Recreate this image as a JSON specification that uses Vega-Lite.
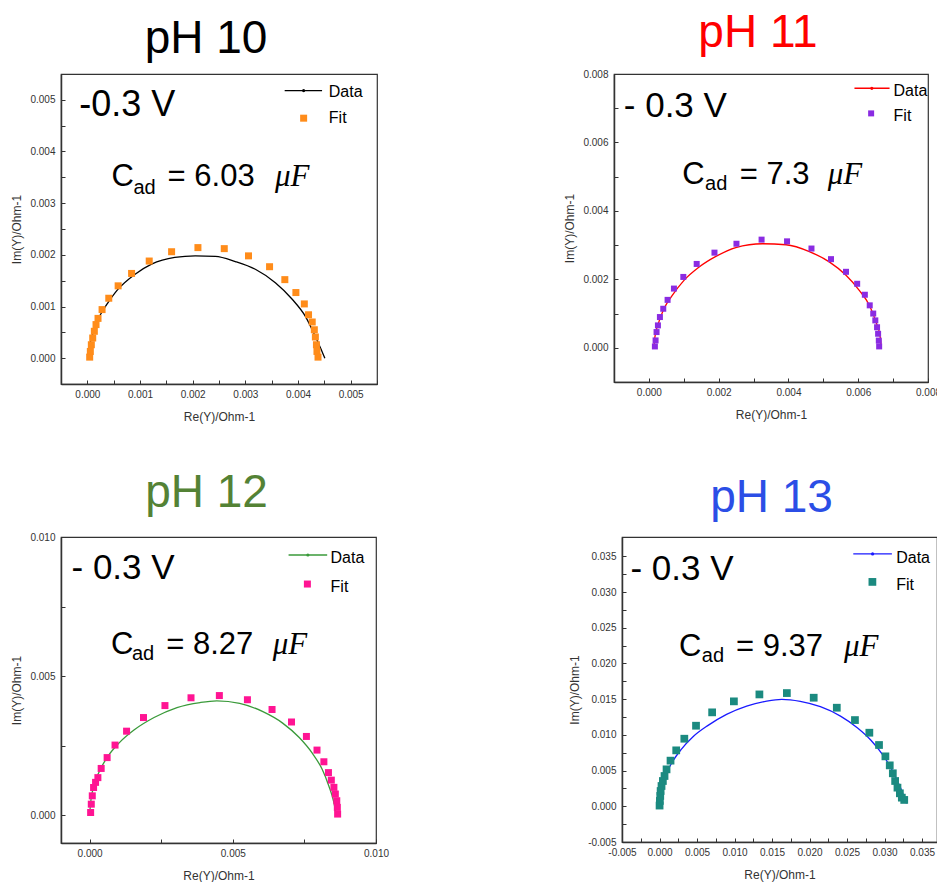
{
"$schema": "https://vega.github.io/schema/vega-lite/v6.json",
"padding": {"left": 10, "top": 9, "right": 0, "bottom": 0},
"background": "white",
"config": {
  "view": {"stroke": "#333", "strokeWidth": 1.2},
  "axis": {"grid": false, "domainColor": "#333", "domainWidth": 1.5, "tickColor": "#333", "tickSize": -4, "tickWidth": 1, "tickCount": 100, "labelFont": "Liberation Sans", "labelFontSize": 10, "labelColor": "#333", "labelOverlap": false, "labelFlush": false, "titleFont": "Liberation Sans", "titleFontSize": 12, "titleFontWeight": "normal", "titleColor": "#333"},
  "axisX": {"labelPadding": 9, "titlePadding": 12},
  "axisY": {"labelPadding": 10, "titlePadding": 6}
},
"datasets": {
  "d10": [{"re":0.000013,"im":0},{"re":0.00003,"im":0.00016},{"re":0.000089,"im":0.00042},{"re":0.00017,"im":0.00068},{"re":0.00027,"im":0.00088},{"re":0.00039,"im":0.00107},{"re":0.00058,"im":0.00133},{"re":0.0009,"im":0.00162},{"re":0.00122,"im":0.00182},{"re":0.00166,"im":0.00195},{"re":0.00205,"im":0.00198},{"re":0.00243,"im":0.00197},{"re":0.00281,"im":0.00187},{"re":0.00319,"im":0.00172},{"re":0.00357,"im":0.00146},{"re":0.00389,"im":0.00114},{"re":0.00414,"im":0.00081},{"re":0.00433,"im":0.00042},{"re":0.00443,"im":0.00019},{"re":0.00451,"im":0}],
  "f10": [{"re":0.0000445,"im":0.00002},{"re":0.000057,"im":0.00013},{"re":0.000076,"im":0.00026},{"re":0.000102,"im":0.00039},{"re":0.000133,"im":0.00052},{"re":0.000165,"im":0.00065},{"re":0.000203,"im":0.00077},{"re":0.00028,"im":0.00094},{"re":0.000407,"im":0.00116},{"re":0.000585,"im":0.0014},{"re":0.00084,"im":0.00164},{"re":0.001175,"im":0.00188},{"re":0.0016,"im":0.00206},{"re":0.0021,"im":0.00214},{"re":0.0026,"im":0.00212},{"re":0.00306,"im":0.00198},{"re":0.00346,"im":0.00177},{"re":0.00375,"im":0.00152},{"re":0.00396,"im":0.00127},{"re":0.00412,"im":0.00105},{"re":0.0042,"im":0.00084},{"re":0.00427,"im":0.0007},{"re":0.00431,"im":0.00055},{"re":0.00433,"im":0.00041},{"re":0.00435,"im":0.00026},{"re":0.00436,"im":0.00013},{"re":0.00438,"im":0.00002}],
  "d11": [{"re":0.000144,"im":0},{"re":0.000172,"im":0.00031},{"re":0.000268,"im":0.0007},{"re":0.000431,"im":0.00114},{"re":0.00067,"im":0.00153},{"re":0.001006,"im":0.00197},{"re":0.00144,"im":0.00236},{"re":0.00192,"im":0.00267},{"re":0.00249,"im":0.00293},{"re":0.00326,"im":0.00304},{"re":0.00393,"im":0.00301},{"re":0.0046,"im":0.00281},{"re":0.00517,"im":0.00251},{"re":0.00565,"im":0.00212},{"re":0.00603,"im":0.00168},{"re":0.00632,"im":0.00124},{"re":0.00651,"im":0.00075},{"re":0.00663,"im":0.00031},{"re":0.00666,"im":0}],
  "f11": [{"re":0.000172,"im":0.000039},{"re":0.000192,"im":0.000215},{"re":0.00022,"im":0.000459},{"re":0.000259,"im":0.000654},{"re":0.000316,"im":0.000898},{"re":0.000412,"im":0.00114},{"re":0.000536,"im":0.0014},{"re":0.000718,"im":0.00173},{"re":0.000987,"im":0.00207},{"re":0.00137,"im":0.00245},{"re":0.00188,"im":0.00278},{"re":0.00251,"im":0.00304},{"re":0.00323,"im":0.00316},{"re":0.00396,"im":0.00311},{"re":0.00466,"im":0.0029},{"re":0.00522,"im":0.00259},{"re":0.00565,"im":0.00222},{"re":0.00597,"im":0.00187},{"re":0.00619,"im":0.00155},{"re":0.00633,"im":0.00124},{"re":0.00643,"im":0.001},{"re":0.00649,"im":0.0008},{"re":0.00654,"im":0.0006},{"re":0.00657,"im":0.00041},{"re":0.00659,"im":0.00021},{"re":0.0066,"im":0.00004}],
  "d12": [{"re":0,"im":0},{"re":0.0000346,"im":0.000456},{"re":0.00015,"im":0.00106},{"re":0.000346,"im":0.00159},{"re":0.000634,"im":0.00211},{"re":0.00104,"im":0.00261},{"re":0.00156,"im":0.00307},{"re":0.00225,"im":0.00351},{"re":0.00305,"im":0.00387},{"re":0.00386,"im":0.00405},{"re":0.00444,"im":0.00411},{"re":0.00524,"im":0.00402},{"re":0.00605,"im":0.00372},{"re":0.00674,"im":0.00331},{"re":0.00732,"im":0.00279},{"re":0.00778,"im":0.00222},{"re":0.00812,"im":0.00165},{"re":0.00835,"im":0.00106},{"re":0.00853,"im":0.000456},{"re":0.00861,"im":0}],
  "f12": [{"re":0.0000346,"im":0.000096},{"re":0.0000576,"im":0.000396},{"re":0.0000922,"im":0.000695},{"re":0.000138,"im":0.000995},{"re":0.000207,"im":0.00118},{"re":0.000288,"im":0.00135},{"re":0.000403,"im":0.00168},{"re":0.000611,"im":0.00207},{"re":0.000887,"im":0.00252},{"re":0.00129,"im":0.00302},{"re":0.00188,"im":0.00351},{"re":0.00263,"im":0.00394},{"re":0.00354,"im":0.00422},{"re":0.00453,"im":0.0043},{"re":0.00551,"im":0.00415},{"re":0.00637,"im":0.0038},{"re":0.00705,"im":0.00335},{"re":0.00757,"im":0.00283},{"re":0.00794,"im":0.00234},{"re":0.00818,"im":0.00192},{"re":0.00834,"im":0.00153},{"re":0.00844,"im":0.00126},{"re":0.00853,"im":0.001},{"re":0.00858,"im":0.00076},{"re":0.00863,"im":0.00052},{"re":0.00865,"im":0.00028},{"re":0.00866,"im":0.00004}],
  "d13": [{"re":0,"im":0},{"re":0.00013,"im":0.00145},{"re":0.00045,"im":0.00308},{"re":0.00098,"im":0.00471},{"re":0.00179,"im":0.00634},{"re":0.0029,"im":0.00797},{"re":0.00447,"im":0.00974},{"re":0.00648,"im":0.01133},{"re":0.00894,"im":0.01287},{"re":0.01162,"im":0.01403},{"re":0.0143,"im":0.01473},{"re":0.01631,"im":0.01497},{"re":0.01877,"im":0.01469},{"re":0.02145,"im":0.01394},{"re":0.02413,"im":0.01263},{"re":0.02637,"im":0.011},{"re":0.02816,"im":0.00928},{"re":0.02972,"im":0.00727},{"re":0.03084,"im":0.00541},{"re":0.03173,"im":0.00354},{"re":0.0324,"im":0.00191},{"re":0.03276,"im":0.00075},{"re":0.03294,"im":0.00042}],
  "f13": [{"re":0.00001,"im":0.0001},{"re":0.00005,"im":0.00075},{"re":0.0001,"im":0.00145},{"re":0.00015,"im":0.00214},{"re":0.00027,"im":0.00284},{"re":0.00045,"im":0.00354},{"re":0.00067,"im":0.00424},{"re":0.00094,"im":0.00517},{"re":0.00147,"im":0.00639},{"re":0.00223,"im":0.00783},{"re":0.00331,"im":0.00946},{"re":0.00487,"im":0.01128},{"re":0.00702,"im":0.01315},{"re":0.00992,"im":0.01469},{"re":0.01332,"im":0.01566},{"re":0.01698,"im":0.01585},{"re":0.02056,"im":0.0152},{"re":0.02364,"im":0.0138},{"re":0.02606,"im":0.01207},{"re":0.02798,"im":0.0103},{"re":0.02927,"im":0.00858},{"re":0.03012,"im":0.00699},{"re":0.0307,"im":0.00573},{"re":0.03111,"im":0.00462},{"re":0.03142,"im":0.00354},{"re":0.03173,"im":0.00261},{"re":0.03205,"im":0.00182},{"re":0.03231,"im":0.00121},{"re":0.03263,"im":0.00089}]
},
"resolve": {"scale": {"x": "independent", "y": "independent"}},
"spacing": 46,
"vconcat": [
 {"hconcat": [
  {"width": 316, "height": 310,
   "title": {"text": "pH 10", "fontSize": 46, "font": "Liberation Sans", "fontWeight": "normal", "color": "#000", "anchor": "middle", "baseline": "alphabetic", "offset": -25, "dx": -13},
   "layer": [
    {"data": {"name": "d10"}, "mark": {"type": "line", "color": "#000", "strokeWidth": 1.3, "interpolate": "monotone"},
     "encoding": {
      "x": {"field": "re", "type": "quantitative", "scale": {"domain": [-0.0005, 0.0055], "nice": false, "zero": false}, "axis": {"title": "Re(Y)/Ohm-1", "tickCount": 100, "labelOverlap": false, "values": [0,0.0005,0.001,0.0015,0.002,0.0025,0.003,0.0035,0.004,0.0045,0.005,0.0055], "labelExpr": "abs(datum.value*1000 - round(datum.value*1000)) < 0.01 ? replace(format(datum.value, '.3f'), '\u2212', '-') : ''"}},
      "y": {"field": "im", "type": "quantitative", "scale": {"domain": [-0.0005, 0.0055], "nice": false, "zero": false}, "axis": {"title": "Im(Y)/Ohm-1", "tickCount": 100, "labelOverlap": false, "values": [0,0.0005,0.001,0.0015,0.002,0.0025,0.003,0.0035,0.004,0.0045,0.005], "labelExpr": "abs(datum.value*1000 - round(datum.value*1000)) < 0.01 ? replace(format(datum.value, '.3f'), '\u2212', '-') : ''"}}}},
    {"data": {"name": "f10"}, "mark": {"type": "square", "size": 49, "color": "#FF8C1A", "opacity": 1},
     "encoding": {"x": {"field": "re", "type": "quantitative"}, "y": {"field": "im", "type": "quantitative"}}},
    {"data": {"values": [{}]}, "mark": {"type": "text", "text": "-0.3 V", "font": "Liberation Sans", "fontSize": 36, "align": "left", "baseline": "alphabetic", "color": "#000"}, "encoding": {"x": {"datum": -0.000152}, "y": {"datum": 0.004678}}},
    {"data": {"values": [{}]}, "mark": {"type": "text", "text": "C", "font": "Liberation Sans", "fontSize": 31, "align": "left", "baseline": "alphabetic", "color": "#000"}, "encoding": {"x": {"datum": 0.000457}, "y": {"datum": 0.003327}}},
    {"data": {"values": [{}]}, "mark": {"type": "text", "text": "ad", "font": "Liberation Sans", "fontSize": 20, "align": "left", "baseline": "alphabetic", "color": "#000"}, "encoding": {"x": {"datum": 0.000876}, "y": {"datum": 0.003183}}},
    {"data": {"values": [{}]}, "mark": {"type": "text", "text": "= 6.03", "font": "Liberation Sans", "fontSize": 31, "align": "left", "baseline": "alphabetic", "color": "#000"}, "encoding": {"x": {"datum": 0.001524}, "y": {"datum": 0.003327}}},
    {"data": {"values": [{}]}, "mark": {"type": "text", "text": "μF", "font": "Liberation Serif", "fontStyle": "italic", "fontSize": 31, "align": "left", "baseline": "alphabetic", "color": "#000"}, "encoding": {"x": {"datum": 0.003562}, "y": {"datum": 0.003327}}},
    {"data": {"values": [{}]}, "mark": {"type": "rule", "color": "#000", "strokeWidth": 1.3}, "encoding": {"x": {"datum": 0.003747}, "x2": {"datum": 0.004457}, "y": {"datum": 0.005179}}},
    {"data": {"values": [{}]}, "mark": {"type": "circle", "size": 10, "color": "#000", "opacity": 1}, "encoding": {"x": {"datum": 0.004107}, "y": {"datum": 0.005179}}},
    {"data": {"values": [{}]}, "mark": {"type": "text", "text": "Data", "font": "Liberation Sans", "fontSize": 16, "align": "left", "baseline": "alphabetic", "color": "#000"}, "encoding": {"x": {"datum": 0.004585}, "y": {"datum": 0.005055}}},
    {"data": {"values": [{}]}, "mark": {"type": "square", "size": 49, "color": "#FF8C1A", "opacity": 1}, "encoding": {"x": {"datum": 0.004107}, "y": {"datum": 0.004645}}},
    {"data": {"values": [{}]}, "mark": {"type": "text", "text": "Fit", "font": "Liberation Sans", "fontSize": 16, "align": "left", "baseline": "alphabetic", "color": "#000"}, "encoding": {"x": {"datum": 0.004585}, "y": {"datum": 0.004548}}}
   ]},
  {"width": 314, "height": 308,
   "title": {"text": "pH 11", "fontSize": 46, "font": "Liberation Sans", "fontWeight": "normal", "color": "#FF0000", "anchor": "middle", "baseline": "alphabetic", "offset": -24, "dx": -13},
   "layer": [
    {"data": {"name": "d11"}, "mark": {"type": "line", "color": "#FF0000", "strokeWidth": 1.3, "interpolate": "monotone"},
     "encoding": {
      "x": {"field": "re", "type": "quantitative", "scale": {"domain": [-0.001, 0.008], "nice": false, "zero": false}, "axis": {"title": "Re(Y)/Ohm-1", "tickCount": 100, "labelOverlap": false, "values": [0,0.001,0.002,0.003,0.004,0.005,0.006,0.007,0.008], "labelExpr": "abs(datum.value*500 - round(datum.value*500)) < 0.01 ? replace(format(datum.value, '.3f'), '\u2212', '-') : ''"}},
      "y": {"field": "im", "type": "quantitative", "scale": {"domain": [-0.001, 0.008], "nice": false, "zero": false}, "axis": {"title": "Im(Y)/Ohm-1", "tickCount": 100, "labelOverlap": false, "values": [0,0.001,0.002,0.003,0.004,0.005,0.006,0.007,0.008], "labelExpr": "abs(datum.value*500 - round(datum.value*500)) < 0.01 ? replace(format(datum.value, '.3f'), '\u2212', '-') : ''"}}}},
    {"data": {"name": "f11"}, "mark": {"type": "square", "size": 36, "color": "#8A2BE2", "opacity": 1},
     "encoding": {"x": {"field": "re", "type": "quantitative"}, "y": {"field": "im", "type": "quantitative"}}},
    {"data": {"values": [{}]}, "mark": {"type": "text", "text": "- 0.3 V", "font": "Liberation Sans", "fontSize": 35, "align": "left", "baseline": "alphabetic", "color": "#000"}, "encoding": {"x": {"datum": -0.000719}, "y": {"datum": 0.006732}}},
    {"data": {"values": [{}]}, "mark": {"type": "text", "text": "C", "font": "Liberation Sans", "fontSize": 31, "align": "left", "baseline": "alphabetic", "color": "#000"}, "encoding": {"x": {"datum": 0.000957}, "y": {"datum": 0.00478}}},
    {"data": {"values": [{}]}, "mark": {"type": "text", "text": "ad", "font": "Liberation Sans", "fontSize": 20, "align": "left", "baseline": "alphabetic", "color": "#000"}, "encoding": {"x": {"datum": 0.00161}, "y": {"datum": 0.004624}}},
    {"data": {"values": [{}]}, "mark": {"type": "text", "text": "= 7.3", "font": "Liberation Sans", "fontSize": 31, "align": "left", "baseline": "alphabetic", "color": "#000"}, "encoding": {"x": {"datum": 0.002604}, "y": {"datum": 0.00478}}},
    {"data": {"values": [{}]}, "mark": {"type": "text", "text": "μF", "font": "Liberation Serif", "fontStyle": "italic", "fontSize": 31, "align": "left", "baseline": "alphabetic", "color": "#000"}, "encoding": {"x": {"datum": 0.005125}, "y": {"datum": 0.00478}}},
    {"data": {"values": [{}]}, "mark": {"type": "rule", "color": "#FF0000", "strokeWidth": 1.5}, "encoding": {"x": {"datum": 0.005892}, "x2": {"datum": 0.006898}, "y": {"datum": 0.00758}}},
    {"data": {"values": [{}]}, "mark": {"type": "circle", "size": 10, "color": "#FF0000", "opacity": 1}, "encoding": {"x": {"datum": 0.00639}, "y": {"datum": 0.00758}}},
    {"data": {"values": [{}]}, "mark": {"type": "text", "text": "Data", "font": "Liberation Sans", "fontSize": 16, "align": "left", "baseline": "alphabetic", "color": "#000"}, "encoding": {"x": {"datum": 0.007013}, "y": {"datum": 0.007355}}},
    {"data": {"values": [{}]}, "mark": {"type": "square", "size": 36, "color": "#8A2BE2", "opacity": 1}, "encoding": {"x": {"datum": 0.00637}, "y": {"datum": 0.006849}}},
    {"data": {"values": [{}]}, "mark": {"type": "text", "text": "Fit", "font": "Liberation Sans", "fontSize": 16, "align": "left", "baseline": "alphabetic", "color": "#000"}, "encoding": {"x": {"datum": 0.007013}, "y": {"datum": 0.006623}}}
   ]}
 ], "spacing": 184, "resolve": {"scale": {"x": "independent", "y": "independent"}}},
 {"hconcat": [
  {"width": 315, "height": 306,
   "title": {"text": "pH 12", "fontSize": 46, "font": "Liberation Sans", "fontWeight": "normal", "color": "#548235", "anchor": "middle", "baseline": "alphabetic", "offset": -21, "dx": -12},
   "layer": [
    {"data": {"name": "d12"}, "mark": {"type": "line", "color": "#3A9A3A", "strokeWidth": 1.3, "interpolate": "monotone"},
     "encoding": {
      "x": {"field": "re", "type": "quantitative", "scale": {"domain": [-0.001, 0.01], "nice": false, "zero": false}, "axis": {"title": "Re(Y)/Ohm-1", "tickCount": 100, "labelOverlap": false, "values": [0,0.0025,0.005,0.0075,0.01], "labelExpr": "abs(datum.value*200 - round(datum.value*200)) < 0.01 ? replace(format(datum.value, '.3f'), '\u2212', '-') : ''"}},
      "y": {"field": "im", "type": "quantitative", "scale": {"domain": [-0.001, 0.01], "nice": false, "zero": false}, "axis": {"title": "Im(Y)/Ohm-1", "tickCount": 100, "labelOverlap": false, "values": [0,0.0025,0.005,0.0075,0.01], "labelExpr": "abs(datum.value*200 - round(datum.value*200)) < 0.01 ? replace(format(datum.value, '.3f'), '\u2212', '-') : ''"}}}},
    {"data": {"name": "f12"}, "mark": {"type": "square", "size": 49, "color": "#FF1493", "opacity": 1},
     "encoding": {"x": {"field": "re", "type": "quantitative"}, "y": {"field": "im", "type": "quantitative"}}},
    {"data": {"values": [{}]}, "mark": {"type": "text", "text": "- 0.3 V", "font": "Liberation Sans", "fontSize": 35, "align": "left", "baseline": "alphabetic", "color": "#000"}, "encoding": {"x": {"datum": -0.000633}, "y": {"datum": 0.008489}}},
    {"data": {"values": [{}]}, "mark": {"type": "text", "text": "C", "font": "Liberation Sans", "fontSize": 31, "align": "left", "baseline": "alphabetic", "color": "#000"}, "encoding": {"x": {"datum": 0.00075}, "y": {"datum": 0.005791}}},
    {"data": {"values": [{}]}, "mark": {"type": "text", "text": "ad", "font": "Liberation Sans", "fontSize": 20, "align": "left", "baseline": "alphabetic", "color": "#000"}, "encoding": {"x": {"datum": 0.001476}, "y": {"datum": 0.005586}}},
    {"data": {"values": [{}]}, "mark": {"type": "text", "text": "= 8.27", "font": "Liberation Sans", "fontSize": 31, "align": "left", "baseline": "alphabetic", "color": "#000"}, "encoding": {"x": {"datum": 0.002675}, "y": {"datum": 0.005791}}},
    {"data": {"values": [{}]}, "mark": {"type": "text", "text": "μF", "font": "Liberation Serif", "fontStyle": "italic", "fontSize": 31, "align": "left", "baseline": "alphabetic", "color": "#000"}, "encoding": {"x": {"datum": 0.006394}, "y": {"datum": 0.005791}}},
    {"data": {"values": [{}]}, "mark": {"type": "rule", "color": "#3A9A3A", "strokeWidth": 1.3}, "encoding": {"x": {"datum": 0.006947}, "x2": {"datum": 0.008295}, "y": {"datum": 0.009353}}},
    {"data": {"values": [{}]}, "mark": {"type": "circle", "size": 10, "color": "#3A9A3A", "opacity": 1}, "encoding": {"x": {"datum": 0.007621}, "y": {"datum": 0.009353}}},
    {"data": {"values": [{}]}, "mark": {"type": "text", "text": "Data", "font": "Liberation Sans", "fontSize": 16, "align": "left", "baseline": "alphabetic", "color": "#000"}, "encoding": {"x": {"datum": 0.008413}, "y": {"datum": 0.009054}}},
    {"data": {"values": [{}]}, "mark": {"type": "square", "size": 49, "color": "#FF1493", "opacity": 1}, "encoding": {"x": {"datum": 0.007604}, "y": {"datum": 0.008309}}},
    {"data": {"values": [{}]}, "mark": {"type": "text", "text": "Fit", "font": "Liberation Sans", "fontSize": 16, "align": "left", "baseline": "alphabetic", "color": "#000"}, "encoding": {"x": {"datum": 0.008413}, "y": {"datum": 0.008032}}}
   ]},
  {"width": 315, "height": 305,
   "title": {"text": "pH 13", "fontSize": 46, "font": "Liberation Sans", "fontWeight": "normal", "color": "#2B4EE6", "anchor": "middle", "baseline": "alphabetic", "offset": -21, "dx": -8},
   "layer": [
    {"data": {"name": "d13"}, "mark": {"type": "line", "color": "#1A1AFF", "strokeWidth": 1.3, "interpolate": "monotone"},
     "encoding": {
      "x": {"field": "re", "type": "quantitative", "scale": {"domain": [-0.005, 0.037], "nice": false, "zero": false}, "axis": {"title": "Re(Y)/Ohm-1", "tickCount": 100, "labelOverlap": false, "values": [-0.005,-0.0025,0,0.0025,0.005,0.0075,0.01,0.0125,0.015,0.0175,0.02,0.0225,0.025,0.0275,0.03,0.0325,0.035], "labelExpr": "abs(datum.value*200 - round(datum.value*200)) < 0.01 ? replace(format(datum.value, '.3f'), '\u2212', '-') : ''"}},
      "y": {"field": "im", "type": "quantitative", "scale": {"domain": [-0.005, 0.0377], "nice": false, "zero": false}, "axis": {"title": "Im(Y)/Ohm-1", "tickCount": 100, "labelOverlap": false, "values": [-0.005,-0.0025,0,0.0025,0.005,0.0075,0.01,0.0125,0.015,0.0175,0.02,0.0225,0.025,0.0275,0.03,0.0325,0.035], "labelExpr": "abs(datum.value*200 - round(datum.value*200)) < 0.01 ? replace(format(datum.value, '.3f'), '\u2212', '-') : ''"}}}},
    {"data": {"name": "f13"}, "mark": {"type": "square", "size": 60, "color": "#1B8A80", "opacity": 1},
     "encoding": {"x": {"field": "re", "type": "quantitative"}, "y": {"field": "im", "type": "quantitative"}}},
    {"data": {"values": [{}]}, "mark": {"type": "text", "text": "- 0.3 V", "font": "Liberation Sans", "fontSize": 35, "align": "left", "baseline": "alphabetic", "color": "#000"}, "encoding": {"x": {"datum": -0.003875}, "y": {"datum": 0.031734}}},
    {"data": {"values": [{}]}, "mark": {"type": "text", "text": "C", "font": "Liberation Sans", "fontSize": 31, "align": "left", "baseline": "alphabetic", "color": "#000"}, "encoding": {"x": {"datum": 0.002601}, "y": {"datum": 0.021007}}},
    {"data": {"values": [{}]}, "mark": {"type": "text", "text": "ad", "font": "Liberation Sans", "fontSize": 20, "align": "left", "baseline": "alphabetic", "color": "#000"}, "encoding": {"x": {"datum": 0.005645}, "y": {"datum": 0.020168}}},
    {"data": {"values": [{}]}, "mark": {"type": "text", "text": "= 9.37", "font": "Liberation Sans", "fontSize": 31, "align": "left", "baseline": "alphabetic", "color": "#000"}, "encoding": {"x": {"datum": 0.010204}, "y": {"datum": 0.021007}}},
    {"data": {"values": [{}]}, "mark": {"type": "text", "text": "μF", "font": "Liberation Serif", "fontStyle": "italic", "fontSize": 31, "align": "left", "baseline": "alphabetic", "color": "#000"}, "encoding": {"x": {"datum": 0.024591}, "y": {"datum": 0.021007}}},
    {"data": {"values": [{}]}, "mark": {"type": "rule", "color": "#1A1AFF", "strokeWidth": 1.3}, "encoding": {"x": {"datum": 0.025838}, "x2": {"datum": 0.030987}, "y": {"datum": 0.035329}}},
    {"data": {"values": [{}]}, "mark": {"type": "circle", "size": 10, "color": "#1A1AFF", "opacity": 1}, "encoding": {"x": {"datum": 0.028413}, "y": {"datum": 0.035329}}},
    {"data": {"values": [{}]}, "mark": {"type": "text", "text": "Data", "font": "Liberation Sans", "fontSize": 16, "align": "left", "baseline": "alphabetic", "color": "#000"}, "encoding": {"x": {"datum": 0.031563}, "y": {"datum": 0.03407}}},
    {"data": {"values": [{}]}, "mark": {"type": "square", "size": 60, "color": "#1B8A80", "opacity": 1}, "encoding": {"x": {"datum": 0.028386}, "y": {"datum": 0.031413}}},
    {"data": {"values": [{}]}, "mark": {"type": "text", "text": "Fit", "font": "Liberation Sans", "fontSize": 16, "align": "left", "baseline": "alphabetic", "color": "#000"}, "encoding": {"x": {"datum": 0.031563}, "y": {"datum": 0.030336}}}
   ]}
 ], "spacing": 178, "resolve": {"scale": {"x": "independent", "y": "independent"}}}
]
}
